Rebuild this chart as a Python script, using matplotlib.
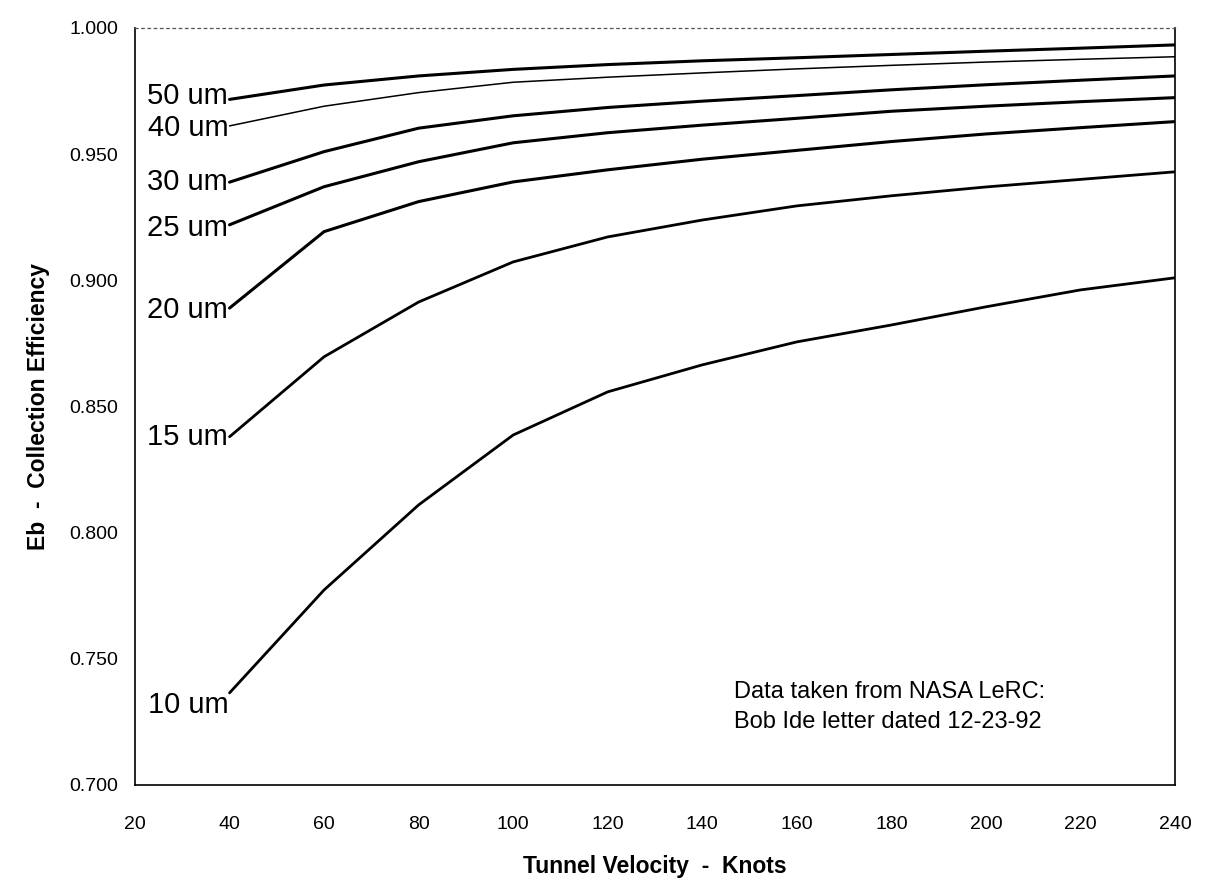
"""
Collection efficiency (Eb) vs tunnel velocity for several droplet sizes.
Digitised from the scanned chart (NASA LeRC data).
"""
import matplotlib
matplotlib.use("Agg")
import matplotlib.pyplot as plt

plt.rcParams["font.family"] = ["Liberation Sans", "DejaVu Sans"]

# --- data ---
velocity = [40, 60, 80, 100, 120, 140, 160, 180, 200, 220, 240]

eb_50um = [0.9717, 0.9774, 0.9810, 0.9836, 0.9855, 0.9870, 0.9882, 0.9895, 0.9908, 0.9920, 0.9933]
eb_40um = [0.9612, 0.9690, 0.9744, 0.9785, 0.9805, 0.9822, 0.9838, 0.9852, 0.9865, 0.9876, 0.9886]
eb_30um = [0.9389, 0.9510, 0.9603, 0.9652, 0.9685, 0.9710, 0.9732, 0.9755, 0.9775, 0.9793, 0.9810]
eb_25um = [0.9220, 0.9371, 0.9470, 0.9545, 0.9585, 0.9615, 0.9642, 0.9670, 0.9690, 0.9708, 0.9724]
eb_20um = [0.8890, 0.9193, 0.9312, 0.9390, 0.9438, 0.9480, 0.9515, 0.9550, 0.9580, 0.9605, 0.9629]
eb_15um = [0.8380, 0.8697, 0.8914, 0.9073, 0.9172, 0.9239, 0.9295, 0.9335, 0.9370, 0.9400, 0.9430]
eb_10um = [0.7365, 0.7773, 0.8110, 0.8387, 0.8558, 0.8665, 0.8756, 0.8823, 0.8895, 0.8962, 0.9010]

curve_labels = ["50 um", "40 um", "30 um", "25 um", "20 um", "15 um", "10 um"]
curves = [eb_50um, eb_40um, eb_30um, eb_25um, eb_20um, eb_15um, eb_10um]
line_widths = [2.2, 1.1, 2.2, 2.2, 2.2, 2.0, 2.0]
label_dy = [0.0012, -0.0008, 0.0, -0.0012, -0.0008, 0.0, -0.0048]

x_ticks = [20, 40, 60, 80, 100, 120, 140, 160, 180, 200, 220, 240]
y_ticks = [0.700, 0.750, 0.800, 0.850, 0.900, 0.950, 1.000]

note = "Data taken from NASA LeRC:\nBob Ide letter dated 12-23-92"

fig = plt.figure(figsize=(12.14, 8.83), dpi=100)
ax = fig.add_axes([0.1112, 0.111, 0.8567, 0.8573])

for label, ys, lw, dy in zip(curve_labels, curves, line_widths, label_dy):
    ax.plot(velocity, ys, color="black", linewidth=lw, solid_capstyle="round")
    ax.text(velocity[0] - 0.3, ys[0] + dy, label, ha="right", va="center", fontsize=21)

ax.text(146.7, 0.7413, note, ha="left", va="top", fontsize=17, linespacing=1.5)

ax.set_xlim(20, 240)
ax.set_ylim(0.700, 1.000)
ax.set_xticks(x_ticks)
ax.set_yticks(y_ticks)
ax.set_yticklabels([f"{v:.3f}" for v in y_ticks])
ax.tick_params(axis="both", length=0, labelsize=14)
ax.tick_params(axis="x", pad=22)
ax.tick_params(axis="y", pad=12)

ax.set_xlabel("Tunnel Velocity  -  Knots", fontsize=16.5, fontweight="bold", labelpad=16)
ax.set_ylabel("Eb  -  Collection Efficiency", fontsize=16.5, fontweight="bold", labelpad=14)

for side in ["left", "right", "bottom"]:
    ax.spines[side].set_linewidth(1.2)
ax.spines["top"].set_linestyle((0, (2, 3)))
ax.spines["top"].set_linewidth(0.9)
ax.spines["top"].set_color("#555555")

fig.savefig("out.png", dpi=100)
